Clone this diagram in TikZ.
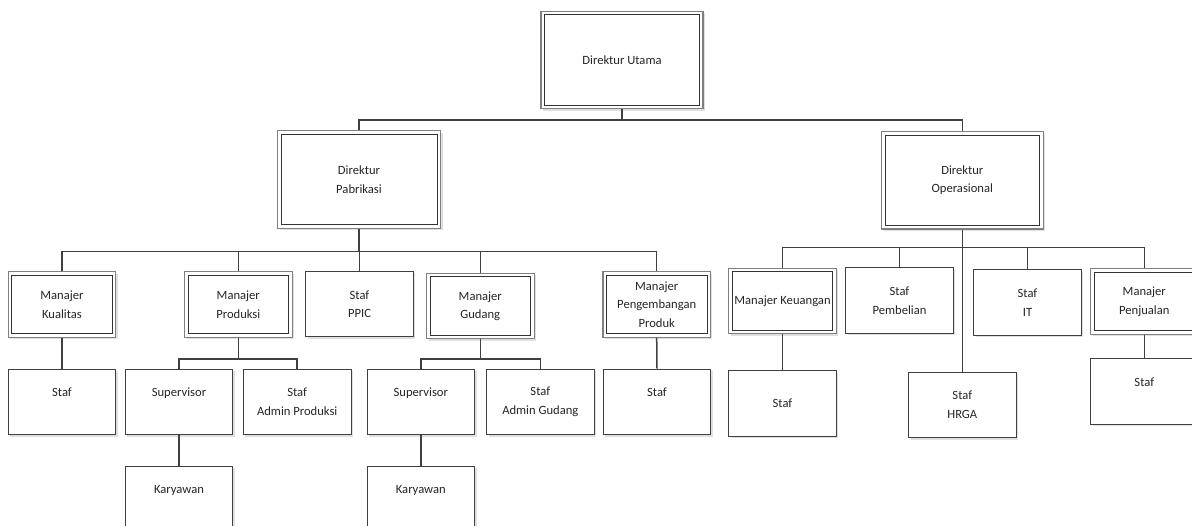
\documentclass[tikz,border=0pt]{standalone}
\usepackage{fontspec}
\setmainfont{Carlito}
\usetikzlibrary{shadows}
\begin{document}
\begin{tikzpicture}[x=1pt,y=-1pt,
  box/.style={draw=black!75, line width=0.9pt, fill=white, inner sep=0pt, align=center,
    text=black!85, font=\fontsize{12.6}{18.5}\selectfont,
    minimum width=107.5pt, minimum height=65.5pt,
    general shadow={fill=black!12, shadow xshift=2pt, shadow yshift=-2pt}},
  mgr/.style={box, draw=black!50, line width=1.1pt,
    path picture={\draw[black!80, line width=0.9pt]
      ([shift={(3.5pt,3.5pt)}]path picture bounding box.south west) rectangle
      ([shift={(-3.5pt,-3.5pt)}]path picture bounding box.north east);}},
  dir/.style={mgr, minimum width=162pt, minimum height=97.5pt},
  link/.style={draw=black!75, line width=1.5pt}
]
\clip (0,0) rectangle (1192,526);

% top management
\node[dir] (du) at (622,60) {Direktur Utama};
\node[dir, minimum width=163pt] (dp) at (359,179.5) {Direktur\\Pabrikasi};
\node[dir, minimum width=161.5pt] (do) at (962.3,180.3) {Direktur\\Operasional};

% manufacturing branch
\node[mgr] (mk) at (62,304.5) {Manajer\\Kualitas};
\node[mgr] (mp) at (238.3,304.5) {Manajer\\Produksi};
\node[box] (ppic) at (359.5,304.2) {Staf\\PPIC};
\node[mgr] (mg) at (480.3,306.2) {Manajer\\Gudang};
\node[mgr] (mpp) at (656.7,304.5) {Manajer\\Pengembangan\\Produk};

\node[box] (sk) at (62,401.8) {Staf\\\mbox{}};
\node[box] (sup1) at (179,401.8) {Supervisor\\\mbox{}};
\node[box] (sap) at (297.2,401.8) {Staf\\Admin Produksi};
\node[box] (sup2) at (420.8,401.8) {Supervisor\\\mbox{}};
\node[box] (sag) at (540.3,401.8) {Staf\\Admin Gudang};
\node[box] (spp) at (657,401.8) {Staf\\\mbox{}};
\node[box] (kar1) at (179,499.2) {Karyawan\\\mbox{}};
\node[box] (kar2) at (420.8,499.2) {Karyawan\\\mbox{}};

% operations branch
\node[mgr] (mkeu) at (782.5,301.2) {Manajer Keuangan};
\node[box] (spemb) at (899.5,300.5) {Staf\\Pembelian};
\node[box] (sit) at (1027.5,302.5) {Staf\\IT};
\node[mgr] (mpenj) at (1144.3,301.7) {Manajer\\Penjualan};
\node[box] (skeu) at (782.5,403.3) {Staf};
\node[box] (shrga) at (962.3,404.8) {Staf\\HRGA};
\node[box] (spenj) at (1144.3,391.5) {Staf\\\mbox{}};

% bus junctions
\coordinate (b0) at (622,120);
\coordinate (b1) at (359,251.7);
\coordinate (b2) at (962.3,247.3);
\coordinate (b3) at (238.3,359);
\coordinate (b4) at (480.3,359);

% connectors
\draw[link] (du.south) -- (b0);
\draw[link] (dp.north) |- (b0) -| (do.north);

\draw[link] (dp.south) -- (b1);
\draw[link] (mk.north) |- (b1) -| (mpp.north);
\draw[link] (mp.north) -- (mp.north |- b1);
\draw[link] (ppic.north) -- (ppic.north |- b1);
\draw[link] (mg.north) -- (mg.north |- b1);

\draw[link] (mk.south) -- (sk.north);
\draw[link] (mp.south) -- (b3);
\draw[link] (sup1.north) |- (b3) -| (sap.north);
\draw[link] (mg.south) -- (b4);
\draw[link] (sup2.north) |- (b4) -| (sag.north);
\draw[link] (mpp.south) -- (spp.north);
\draw[link] (sup1.south) -- (kar1.north);
\draw[link] (sup2.south) -- (kar2.north);

\draw[link] (do.south) -- (shrga.north);
\draw[link] (mkeu.north) |- (b2) -| (mpenj.north);
\draw[link] (spemb.north) -- (spemb.north |- b2);
\draw[link] (sit.north) -- (sit.north |- b2);
\draw[link] (mkeu.south) -- (skeu.north);
\draw[link] (mpenj.south) -- (spenj.north);
\end{tikzpicture}
\end{document}
